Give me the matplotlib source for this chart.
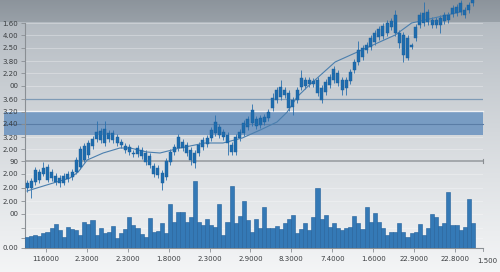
import numpy as np
import matplotlib
matplotlib.use("Agg")
import matplotlib.pyplot as plt
from matplotlib.patches import Rectangle
from matplotlib.collections import LineCollection

# ---------------- data ----------------
body_top = [65, 67, 78, 76, 80, 81, 76, 72, 70, 72, 74, 76, 88, 99, 102, 105, 109, 116, 117, 119,
            115, 115, 111, 106, 102, 101, 95, 100, 98, 95, 92, 82, 80, 75, 87, 96, 101, 111, 106, 103,
            98, 95, 103, 108, 110, 118, 126, 121, 116, 113, 103, 111, 116, 125, 129, 138, 129, 130, 131, 136,
            150, 158, 161, 158, 155, 148, 158, 170, 168, 168, 167, 168, 160, 166, 171, 179, 175, 168, 168, 176,
            186, 198, 200, 203, 210, 215, 219, 222, 225, 227, 233, 215, 213, 210, 203, 221, 233, 235, 236, 228,
            228, 230, 233, 233, 240, 241, 245, 238, 243, 248]
body_bot = [60, 60, 66, 68, 74, 68, 70, 66, 65, 65, 69, 71, 76, 81, 88, 93, 102, 109, 108, 105,
            109, 108, 105, 103, 98, 96, 94, 94, 92, 86, 83, 74, 73, 65, 71, 86, 96, 100, 100, 95,
            88, 85, 95, 101, 104, 110, 115, 113, 111, 105, 96, 96, 110, 115, 121, 125, 122, 123, 126, 130,
            140, 148, 151, 153, 140, 141, 148, 161, 162, 164, 164, 155, 148, 156, 163, 168, 165, 158, 160, 167,
            178, 186, 191, 198, 201, 206, 211, 212, 215, 221, 215, 205, 193, 190, 201, 210, 223, 225, 226, 223,
            223, 223, 227, 228, 234, 235, 236, 233, 238, 245]
wick_high = [68, 70, 81, 79, 86, 84, 79, 75, 73, 75, 77, 79, 91, 102, 105, 108, 112, 127, 120, 127,
             118, 118, 114, 109, 105, 104, 98, 103, 101, 98, 95, 85, 83, 78, 90, 99, 104, 114, 109, 106,
             101, 98, 106, 111, 113, 121, 133, 124, 119, 116, 106, 114, 119, 128, 132, 144, 132, 133, 134, 139,
             155, 161, 168, 161, 158, 151, 161, 178, 171, 171, 170, 171, 163, 169, 174, 182, 178, 171, 171, 179,
             189, 207, 203, 206, 213, 218, 222, 225, 228, 230, 238, 218, 216, 213, 205, 224, 236, 246, 239, 231,
             231, 233, 236, 236, 243, 244, 248, 241, 246, 250]
wick_low = [56, 50, 63, 65, 72, 66, 67, 63, 61, 63, 66, 68, 74, 79, 86, 90, 99, 106, 105, 102,
            106, 105, 102, 100, 95, 93, 91, 91, 89, 83, 80, 71, 70, 58, 68, 83, 93, 97, 97, 92,
            83, 80, 92, 98, 101, 107, 112, 110, 108, 93, 93, 93, 107, 112, 118, 122, 119, 120, 123, 127,
            137, 145, 148, 150, 137, 133, 145, 158, 159, 161, 161, 152, 145, 153, 160, 165, 162, 153, 153, 164,
            175, 183, 188, 195, 198, 203, 208, 209, 212, 218, 212, 200, 186, 188, 199, 207, 220, 222, 223, 220,
            220, 215, 224, 225, 231, 232, 233, 230, 235, 242]
volume = [11, 12, 13, 12, 15, 16, 20, 24, 18, 11, 21, 19, 18, 13, 26, 24, 28, 13, 20, 15,
          16, 22, 10, 15, 19, 31, 23, 20, 14, 11, 30, 16, 17, 25, 15, 44, 26, 36, 36, 26,
          31, 67, 26, 23, 29, 23, 21, 44, 13, 26, 62, 25, 32, 47, 28, 16, 29, 20, 41, 20,
          20, 22, 19, 25, 29, 33, 15, 19, 25, 18, 31, 60, 29, 33, 21, 25, 20, 18, 20, 21,
          32, 25, 19, 41, 26, 35, 26, 20, 13, 16, 16, 25, 16, 11, 15, 16, 24, 13, 20, 34,
          31, 22, 25, 56, 23, 23, 18, 21, 49, 25]
ma_index = [0, 6.4, 10.5, 12.5, 14.7, 18.6, 22.7, 25.2, 29.3, 32.5, 37.4, 43.5, 47.9, 52.6,
            57, 61.1, 63.6, 66, 68.5, 70.4, 75.3, 90, 94, 105.9]
ma_value = [57, 65, 70, 76, 88, 95, 100, 100, 96, 95, 100, 105, 105, 110,
            118, 126, 136, 151, 161, 168, 186, 213, 225, 236]

y_tick_pos = [225, 213, 200, 187, 175, 162, 149, 136, 124, 111, 99, 87, 74, 60, 47, 34, 20, 10, 0]
y_tick_labels = ["1.60", "4.00", "2.50", "3.80", "2.20", "00", "3.60", "3.20", "2.40", "3.20",
                 "2.00", "90", "2.00", "2.00", "2.00", "00", "", "", "0.00"]
x_tick_pos = [4.6, 14.6, 24.6, 34.6, 44.6, 54.6, 64.6, 74.6, 84.6, 94.6, 104.6]
x_tick_labels = ["116000", "2.3000", "2.3000", "1.8000", "2.3000", "2.9000", "8.3000",
                 "7.4000", "1.6000", "22.9000", "22.8000"]
x_last_label = "1.500"
line_level = 149
band_low, band_mid, band_high = 113, 124, 136
gray_level = 87

# ---------------- figure ----------------
W, H = 500, 272
fig = plt.figure(figsize=(W / 100, H / 100), dpi=100)

# background gradient
bg = fig.add_axes([0, 0, 1, 1], zorder=-10)
bg.set_axis_off()
ys = np.linspace(0, 1, 272)[:, None]
top_c = np.array([0.66, 0.69, 0.72])
bot_c = np.array([0.955, 0.96, 0.965])
t = np.clip(ys, 0, 1) ** 0.75
grad = top_c * (1 - t[..., None]) + bot_c * t[..., None]
grad = np.repeat(grad, 10, axis=1)
band_rows = 22
dark_top = np.array([0.55, 0.58, 0.61])
dark_bot = np.array([0.60, 0.63, 0.66])
for r in range(band_rows):
    f = r / band_rows
    grad[r, :, :] = dark_top * (1 - f) + dark_bot * f
bg.imshow(grad, aspect="auto", extent=[0, 1, 0, 1], origin="upper")
bg.set_xlim(0, 1)
bg.set_ylim(0, 1)

ax = fig.add_axes([25 / W, 1 - 248 / H, 458 / W, 248 / H])
ax.patch.set_alpha(0)
n = len(volume)
unit = 450 / n
ax.set_xlim(-0.5, -0.5 + 458 / unit)
ax.set_ylim(0, 248)

x_all = np.arange(n)

# faint gridlines
for yp in y_tick_pos:
    ax.axhline(yp, color="white", alpha=0.35, lw=0.6, zorder=1)

# special reference lines and band (under the tick labels)
ax.axhline(line_level, color="#7f9bb6", lw=0.9, zorder=1.1)
trans = ax.get_yaxis_transform()
band_left = (4 - 25) / 458
ax.add_patch(Rectangle((band_left, band_low), 1 - band_left, band_high - band_low,
                       transform=trans, facecolor="#6f96c1", alpha=0.9, edgecolor="none",
                       zorder=1.2, clip_on=False))
ax.plot([band_left, 1], [band_high + 0.6, band_high + 0.6], transform=trans,
        color="white", alpha=0.7, lw=1.0, zorder=1.3, clip_on=False)
ax.plot([band_left, 1], [band_mid, band_mid], transform=trans,
        color="#5a7da6", lw=0.8, zorder=1.3, clip_on=False)
ax.axhline(gray_level, color="#a3a7ab", lw=1.4, zorder=1.3)
ax.plot([1, 1], [gray_level - 2, gray_level + 2], transform=trans, color="#8a8e92", lw=0.8,
        clip_on=False, zorder=1.3)

# volume bars
ax.bar(x_all, volume, width=1.0, color="#3479b6", edgecolor="#23609a", linewidth=0.4, zorder=3)

# candles
nc = len(body_top)
xc = np.arange(nc)
segs = [[(xc[i], wick_low[i]), (xc[i], wick_high[i])] for i in range(nc)]
ax.add_collection(LineCollection(segs, colors="#2a70ae", linewidths=0.6, zorder=4, clip_on=False))
for i in range(nc):
    lo = min(body_top[i], body_bot[i])
    hi = max(body_top[i], body_bot[i])
    ax.add_patch(Rectangle((xc[i] - 0.36, lo), 0.72, max(hi - lo, 1.0),
                           facecolor="#1f6cae", edgecolor="#1a5e99", linewidth=0.3,
                           zorder=5, clip_on=False))

# moving average line
ax.plot(ma_index, ma_value, color="#4b7fae", lw=0.8, zorder=4.5, clip_on=False)

# axes styling
for s in ["top", "right"]:
    ax.spines[s].set_visible(False)
ax.spines["left"].set_bounds(0, 225)
ax.spines["left"].set_color("#8a8f94")
ax.spines["bottom"].set_color("#8a8f94")
ax.spines["left"].set_linewidth(0.8)
ax.spines["bottom"].set_linewidth(0.8)
ax.set_yticks(y_tick_pos)
ax.set_yticklabels(y_tick_labels)
ax.set_xticks(x_tick_pos)
ax.set_xticklabels(x_tick_labels)
ax.tick_params(axis="both", labelsize=5, colors="#8a8f94", labelcolor="#3a3d40",
               length=3, width=0.6, direction="out", pad=2)
ax.tick_params(axis="x", pad=3)
ax.text(1.0 + 14 / 458, -0.042, x_last_label, transform=ax.transAxes, fontsize=5,
        color="#3a3d40", ha="right", va="top")
ax.plot([1, 1], [0, -0.012], transform=ax.transAxes, color="#8a8f94", lw=0.6, clip_on=False)

fig.savefig("out.png", dpi=100)
